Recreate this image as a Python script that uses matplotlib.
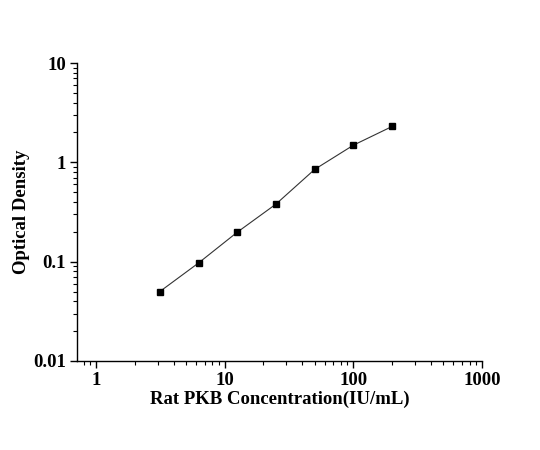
import matplotlib
matplotlib.use("Agg")
import matplotlib.pyplot as plt
from matplotlib.ticker import LogLocator, FixedLocator, NullFormatter

plt.rcParams['font.family'] = ['Liberation Serif', 'DejaVu Serif']
plt.rcParams['font.weight'] = 'bold'

conc = [3.125, 6.25, 12.5, 25, 50, 100, 200]
od = [0.050, 0.097, 0.198, 0.38, 0.85, 1.49, 2.30]
xticks = [1, 10, 100, 1000]
xticklabels = ["1", "10", "100", "1000"]
yticks = [0.01, 0.1, 1, 10]
yticklabels = ["0.01", "0.1", "1", "10"]

fig = plt.figure(figsize=(5.4, 4.5), dpi=100)
ax = fig.add_axes([0.1426, 0.1978, 0.75, 0.662])

ax.plot(conc, od, color='#333333', linewidth=0.8, marker='s', markersize=5,
        markerfacecolor='black', markeredgecolor='black')

ax.set_xscale('log')
ax.set_yscale('log')
ax.set_xlim(0.71, 1000)
ax.set_ylim(0.01, 10)

ax.xaxis.set_major_locator(FixedLocator(xticks))
ax.set_xticklabels(xticklabels)
ax.yaxis.set_major_locator(FixedLocator(yticks))
ax.set_yticklabels(yticklabels)
ax.xaxis.set_minor_locator(LogLocator(base=10, subs=range(2, 10)))
ax.yaxis.set_minor_locator(LogLocator(base=10, subs=range(2, 10)))
ax.xaxis.set_minor_formatter(NullFormatter())
ax.yaxis.set_minor_formatter(NullFormatter())

for s in ['top', 'right']:
    ax.spines[s].set_visible(False)
for s in ['left', 'bottom']:
    ax.spines[s].set_linewidth(1.0)

ax.tick_params(which='major', direction='out', length=5, width=1, labelsize=13.5, pad=3)
ax.tick_params(which='minor', direction='out', length=3, width=0.8)

ax.set_xlabel("Rat PKB Concentration(IU/mL)", fontsize=13.5, fontweight='bold', labelpad=1)
ax.set_ylabel("Optical Density", fontsize=13.5, fontweight='bold', labelpad=2)

fig.savefig("out.png", dpi=100)
